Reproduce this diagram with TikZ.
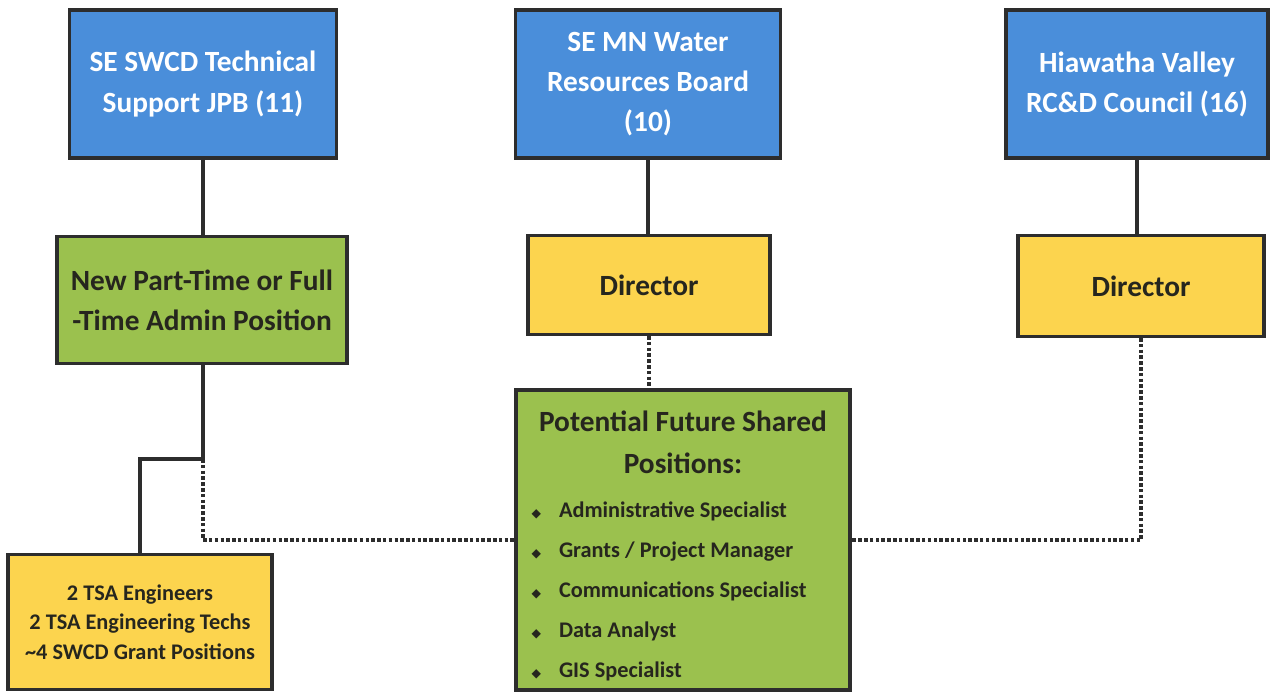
\documentclass[tikz,border=0pt]{standalone}
\usepackage{fontspec}
\setmainfont{Carlito}
\newfontfamily\symbolfont{DejaVu Sans}
\usetikzlibrary{positioning}

\definecolor{boardblue}{RGB}{74,142,218}
\definecolor{admingreen}{RGB}{155,193,78}
\definecolor{staffyellow}{RGB}{252,212,78}
\definecolor{edgegray}{RGB}{45,45,45}
\definecolor{textdark}{RGB}{38,38,30}

\newcommand{\bigtext}{\fontsize{16.7}{22.8}\selectfont\bfseries}
\newcommand{\smalltext}{\fontsize{12.7}{16.8}\selectfont\bfseries}
\newcommand{\itemdot}{{\symbolfont\fontsize{7}{7}\selectfont ◆}}
\newcommand{\poolitem}[1]{\makebox[0.86cm][l]{\hspace*{0.31cm}\itemdot}#1\par}

\begin{document}
\begin{tikzpicture}[x=0.02cm,y=-0.02cm,
  box/.style={draw=edgegray,line width=1.8pt,align=center,inner sep=2pt},
  board/.style={box,fill=boardblue,text=white,font=\bigtext,minimum height=2.96cm},
  post/.style={box,text=textdark,font=\bigtext},
  link/.style={draw=edgegray,line width=2pt},
  maybe/.style={link,dash pattern=on 2pt off 1.3pt}]
\useasboundingbox (0,0) rectangle (1274,693);

% boards
\node[board,minimum width=5.34cm] (jpb) at (203,84) {SE SWCD Technical\\Support JPB (11)};
\node[board,minimum width=5.3cm] (wrb) at (648,84) {SE MN Water\\Resources Board\\(10)};
\node[board,minimum width=5.24cm] (rcd) at (1137,84) {Hiawatha Valley\\RC\&D Council (16)};

% staff under each board
\node[post,fill=admingreen,minimum width=5.8cm,minimum height=2.54cm] (admin) at (202,300) {New Part-Time or Full\\-Time Admin Position};
\node[post,fill=staffyellow,minimum width=4.84cm,minimum height=1.98cm] (wrbdir) at (649,285) {Director};
\node[post,fill=staffyellow,minimum width=4.92cm,minimum height=2.02cm] (rcddir) at (1141,286) {Director};
\node[post,fill=staffyellow,font=\smalltext,minimum width=5.28cm,minimum height=2.7cm] (tsa) at (140,622) {2 TSA Engineers\\2 TSA Engineering Techs\\\textasciitilde4 SWCD Grant Positions};

% shared pool
\node[box,fill=admingreen,text=textdark,inner sep=0pt,minimum width=6.68cm,minimum height=6cm] (pool) at (683,540) {%
  \begin{minipage}{6.68cm}
  \vspace*{7pt}
  {\centering\fontsize{16.7}{24}\selectfont\bfseries Potential Future Shared\\Positions:\par}
  \vspace{2pt}
  {\raggedright\fontsize{12.7}{22.8}\selectfont\bfseries
  \poolitem{Administrative Specialist}
  \poolitem{Grants / Project Manager}
  \poolitem{Communications Specialist}
  \poolitem{Data Analyst}
  \poolitem{GIS Specialist}}
  \end{minipage}};

% solid links
\draw[link] (jpb.south) -- (jpb.south |- admin.north);
\draw[link] (wrb.south) -- (wrb.south |- wrbdir.north);
\draw[link] (rcd.south) -- (rcd.south |- rcddir.north);
\coordinate (split) at (203,459);
\draw[link] (admin.south -| split) -- (split) -| (tsa.north);

% dotted links to the pool
\draw[maybe] (split) |- (pool.west);
\draw[maybe] (wrbdir.south) -- (wrbdir.south |- pool.north);
\draw[maybe] (rcddir.south) |- (pool.east);
\end{tikzpicture}
\end{document}
